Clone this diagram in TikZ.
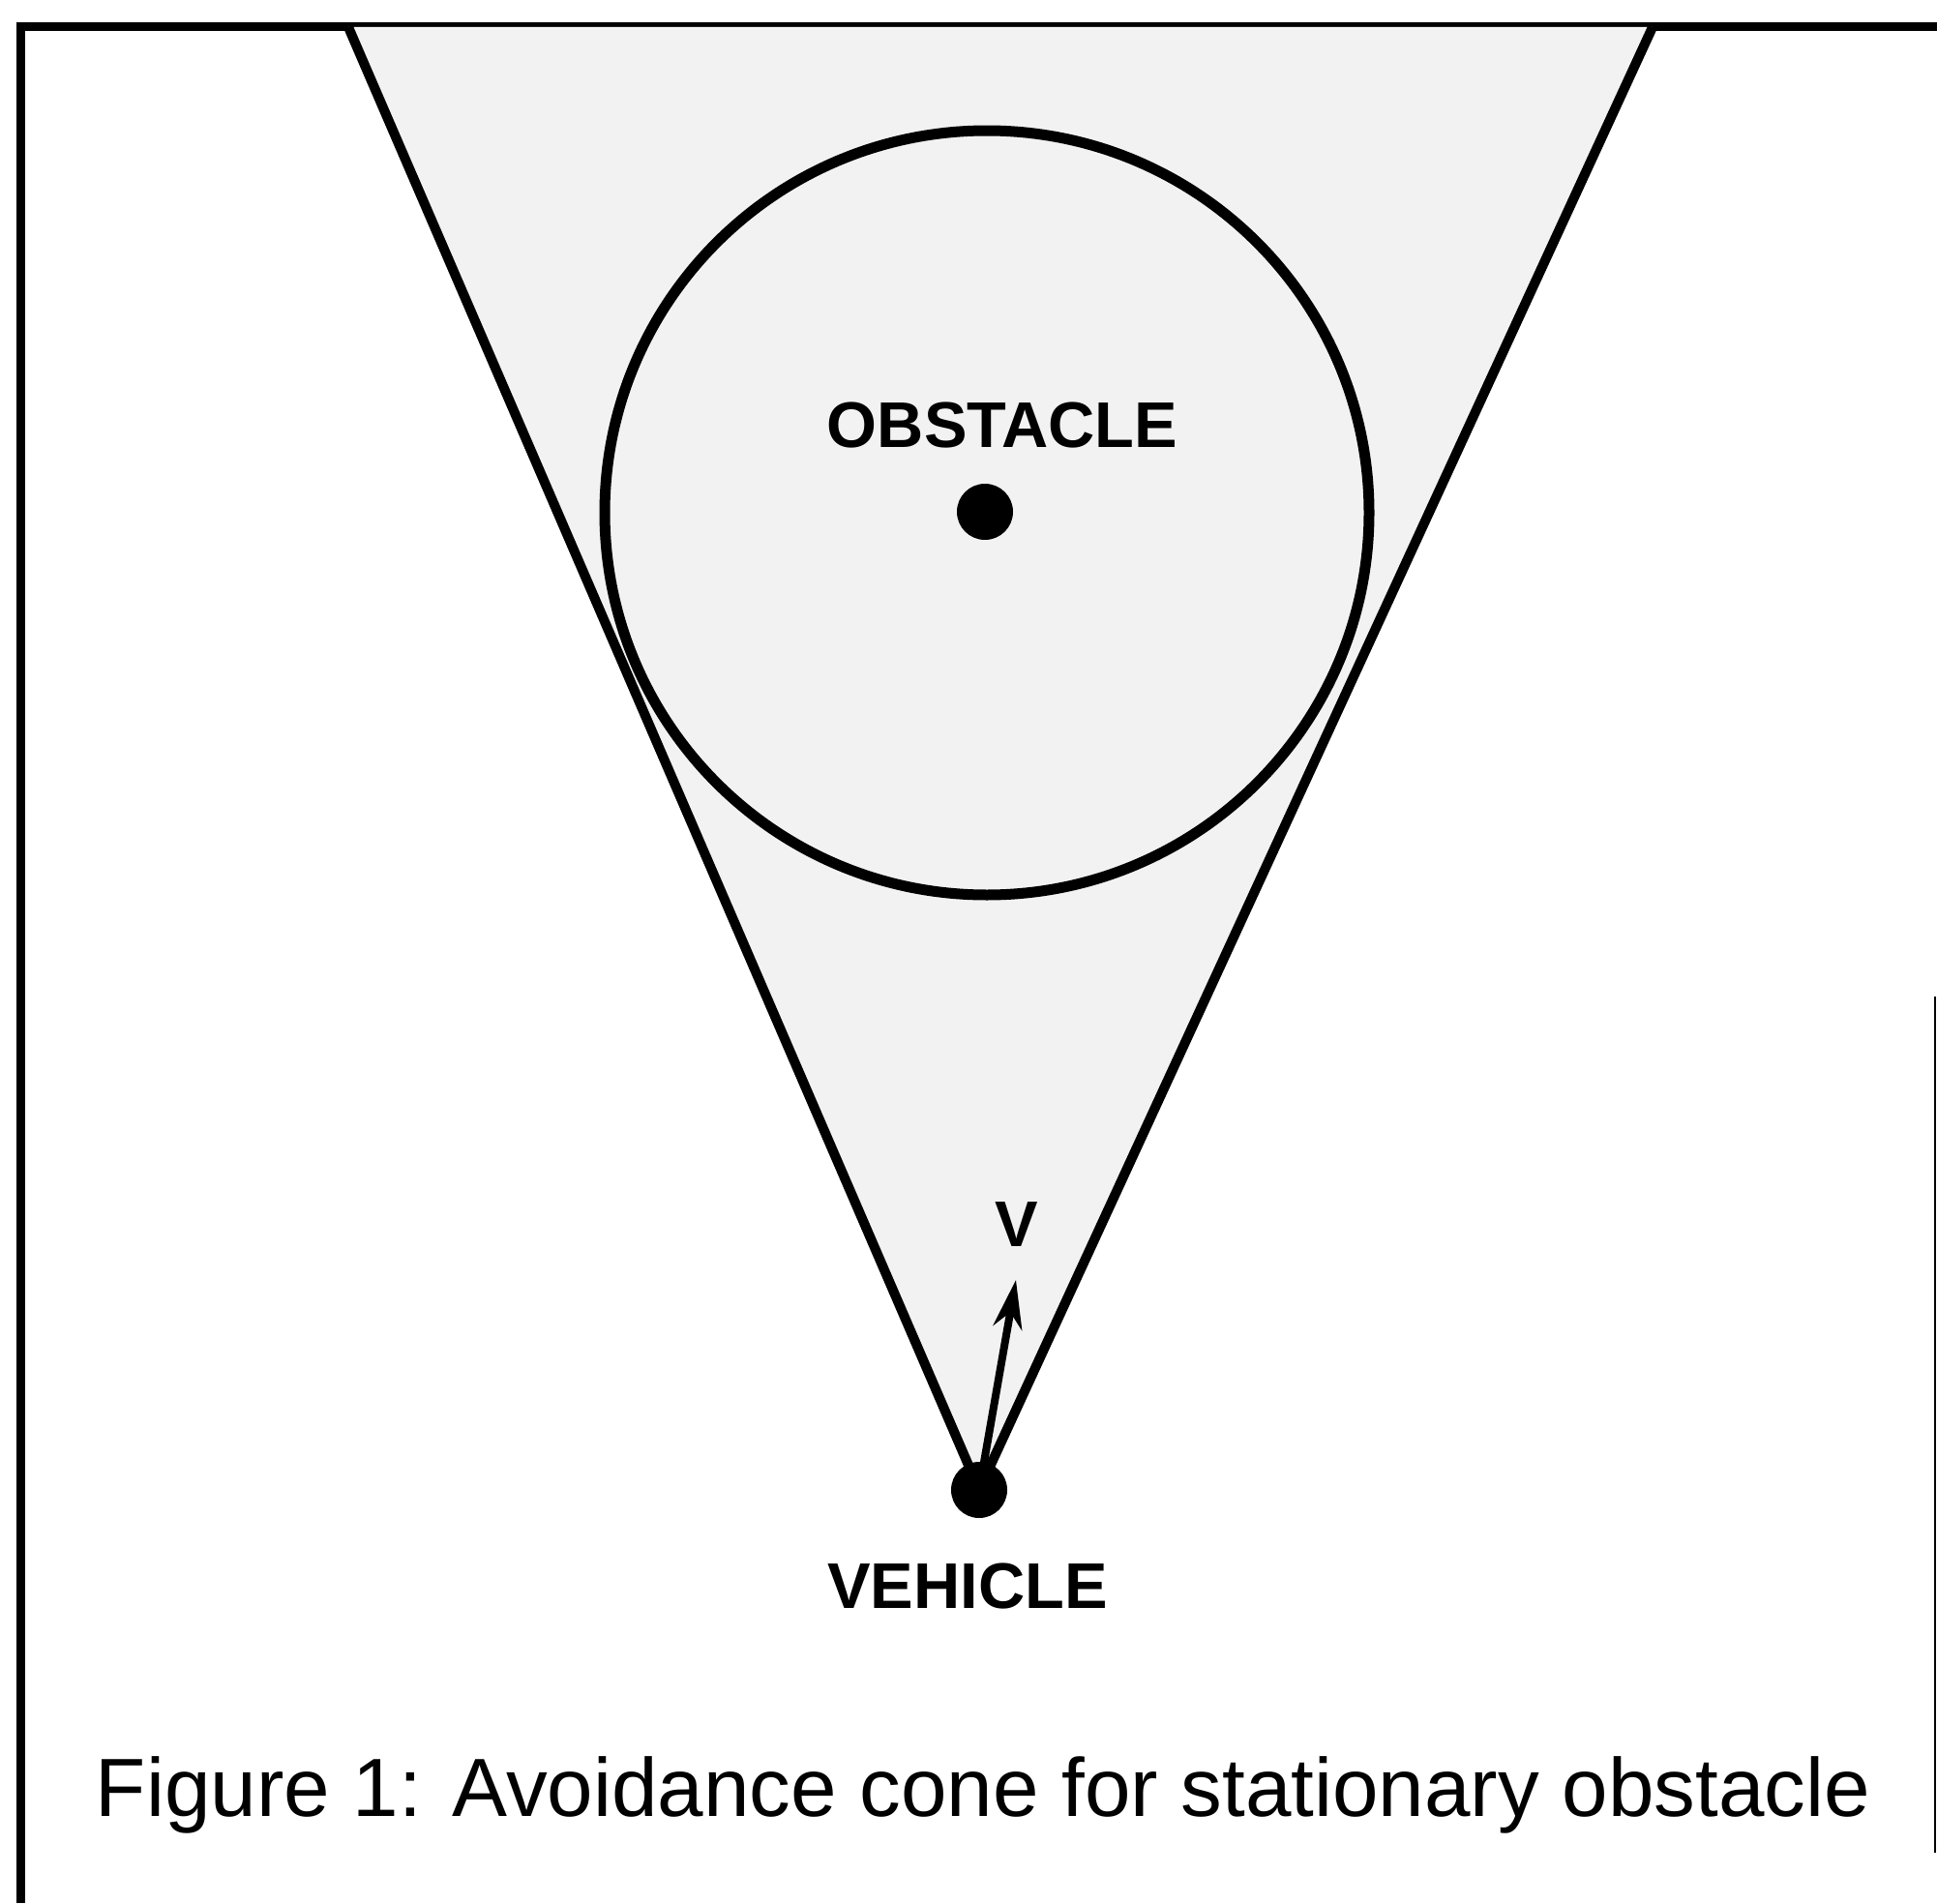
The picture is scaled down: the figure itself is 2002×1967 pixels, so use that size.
\documentclass[tikz,border=0pt]{standalone}
\usepackage{fontspec}
\setmainfont{Liberation Sans}
\usetikzlibrary{arrows.meta}
\tikzset{
  conefill/.style={fill=black!5,draw=none},
  coneline/.style={line width=1mm,line join=round},
  zone/.style={circle,draw,line width=1.1mm,fill=black!5,minimum size=7.9cm,inner sep=0pt},
  dot/.style={circle,fill=black,inner sep=0pt,minimum size=5.8mm},
  tag/.style={font=\fontsize{19}{19}\selectfont\bfseries,inner sep=0pt,anchor=base},
}
\begin{document}
\begin{tikzpicture}[x=0.1mm,y=-0.1mm]
  \useasboundingbox (0,0) rectangle (2002,1967);
  % frame
  \draw[line width=0.9mm] (21,1967) -- (21,28) -- (2002,28);
  \draw[line width=0.5pt] (2000,1030) -- (2000,1915);
  % cone
  \coordinate (apex) at (1012,1540);
  \coordinate (topL) at (360,28);
  \coordinate (topR) at (1708,28);
  \fill[conefill] (apex) -- (topL) -- (topR) -- cycle;
  \node[zone] (zone) at (1020,530) {};
  \draw[coneline] (topL) -- (apex) -- (topR);
  % obstacle and vehicle
  \node[dot] (obstacle) at (1018,529) {};
  \node[dot] (vehicle) at (apex) {};
  \coordinate (vtip) at (1050,1323);
  \draw[line width=0.8mm,-{Stealth[length=5mm,width=3mm]}] (vehicle.center) -- (vtip);
  \node[tag] (obstlabel) at (1036,462) {OBSTACLE};
  \node[tag] (vlabel) at (1051,1288) {V};
  \node[tag] (vehlabel) at (1000,1662) {VEHICLE};
  \node[font=\fontsize{24.3}{24}\selectfont,inner sep=0pt,anchor=base] (caption) at (1016,1877)
    {Figure 1: Avoidance cone for stationary obstacle};
\end{tikzpicture}
\end{document}
